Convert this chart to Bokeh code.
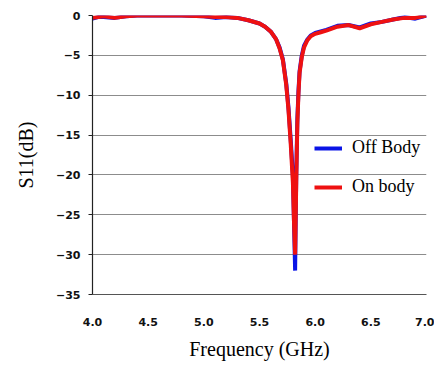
from bokeh.plotting import figure
from bokeh.models import Range1d, FixedTicker, Legend, LegendItem
from bokeh.embed import file_html
from bokeh.resources import INLINE

freq = [4.0, 4.05, 4.1, 4.2, 4.3, 4.4, 4.6, 4.8, 5.0, 5.1, 5.2, 5.3, 5.4, 5.5, 5.55, 5.6, 5.65,
        5.68, 5.71, 5.74, 5.76, 5.78, 5.80, 5.81, 5.82, 5.83, 5.84, 5.85, 5.86, 5.88, 5.90, 5.93,
        5.96, 6.0, 6.05, 6.1, 6.2, 6.3, 6.4, 6.5, 6.6, 6.7, 6.8, 6.9, 7.0]
off_body = [-0.4, -0.2, -0.2, -0.3, -0.1, 0.0, 0.0, 0.0, -0.1, -0.3, -0.2, -0.3, -0.6, -1.0, -1.4,
            -2.0, -3.0, -4.0, -5.5, -8.5, -11.5, -15.5, -20.0, -26.0, -32.0, -20.0, -13.0, -9.5,
            -7.0, -5.0, -3.8, -3.0, -2.5, -2.2, -2.0, -1.8, -1.3, -1.2, -1.5, -1.0, -0.8, -0.5,
            -0.2, -0.4, 0.0]
on_body = [-0.3, -0.2, -0.1, -0.3, -0.1, 0.0, 0.0, 0.0, -0.1, -0.2, -0.2, -0.3, -0.6, -1.0, -1.4,
           -2.0, -3.0, -4.1, -5.6, -8.7, -11.8, -16.0, -21.0, -26.0, -30.0, -21.0, -13.5, -9.8,
           -7.2, -5.2, -4.0, -3.1, -2.6, -2.3, -2.1, -1.9, -1.4, -1.2, -1.6, -1.1, -0.8, -0.5,
           -0.3, -0.3, 0.0]
x_ticks = [4.0, 4.5, 5.0, 5.5, 6.0, 6.5, 7.0]
y_ticks = [0, -5, -10, -15, -20, -25, -30, -35]

p = figure(width=434, height=362, output_backend="svg", toolbar_location=None,
           x_range=Range1d(4.0, 7.0), y_range=Range1d(-35, 0),
           min_border_left=92, min_border_right=8, min_border_top=15, min_border_bottom=64)
p.outline_line_color = None
p.background_fill_color = "white"

r_off = p.line(freq, off_body, line_color="#0a14e6", line_width=4)
r_on = p.line(freq, on_body, line_color="#ee1111", line_width=4)

p.xaxis.ticker = FixedTicker(ticks=x_ticks)
p.yaxis.ticker = FixedTicker(ticks=y_ticks)
p.xaxis.major_label_overrides = {t: f"{t:.1f}" for t in x_ticks}
p.xgrid.grid_line_color = None
p.ygrid.grid_line_color = "#8c8c8c"
p.ygrid.grid_line_width = 1.2

for ax in (p.xaxis, p.yaxis):
    ax.major_label_text_font = "DejaVu Sans"
    ax.major_label_text_font_style = "bold"
    ax.major_label_text_font_size = "11px"
    ax.major_label_text_color = "#111111"
    ax.minor_tick_line_color = None
    ax.axis_label_text_font = "Liberation Serif"
    ax.axis_label_text_font_style = "normal"
    ax.axis_label_text_font_size = "20px"
    ax.axis_label_text_color = "black"

p.xaxis.axis_line_color = "#555555"
p.xaxis.major_tick_line_color = None
p.xaxis.major_tick_in = 0
p.xaxis.major_tick_out = 0
p.xaxis.major_label_standoff = 23
p.xaxis.axis_label = "Frequency (GHz)"
p.xaxis.axis_label_standoff = 9

p.yaxis.axis_line_color = "#222222"
p.yaxis.axis_line_width = 1.2
p.yaxis.major_tick_line_color = "#222222"
p.yaxis.major_tick_in = 0
p.yaxis.major_tick_out = 4
p.yaxis.major_label_standoff = 8
p.yaxis.axis_label = "S11(dB)"
p.yaxis.axis_label_standoff = 16

legend = Legend(items=[LegendItem(label="Off Body", renderers=[r_off]),
                       LegendItem(label="On body", renderers=[r_on])],
                location=(222, 97))
legend.background_fill_alpha = 0
legend.border_line_color = None
legend.label_text_font = "Liberation Serif"
legend.label_text_font_size = "18px"
legend.label_text_color = "black"
legend.glyph_width = 28
legend.label_standoff = 10
legend.spacing = 18
legend.padding = 0
legend.margin = 0
p.add_layout(legend, "center")

open("out.html", "w").write(file_html(p, INLINE))
